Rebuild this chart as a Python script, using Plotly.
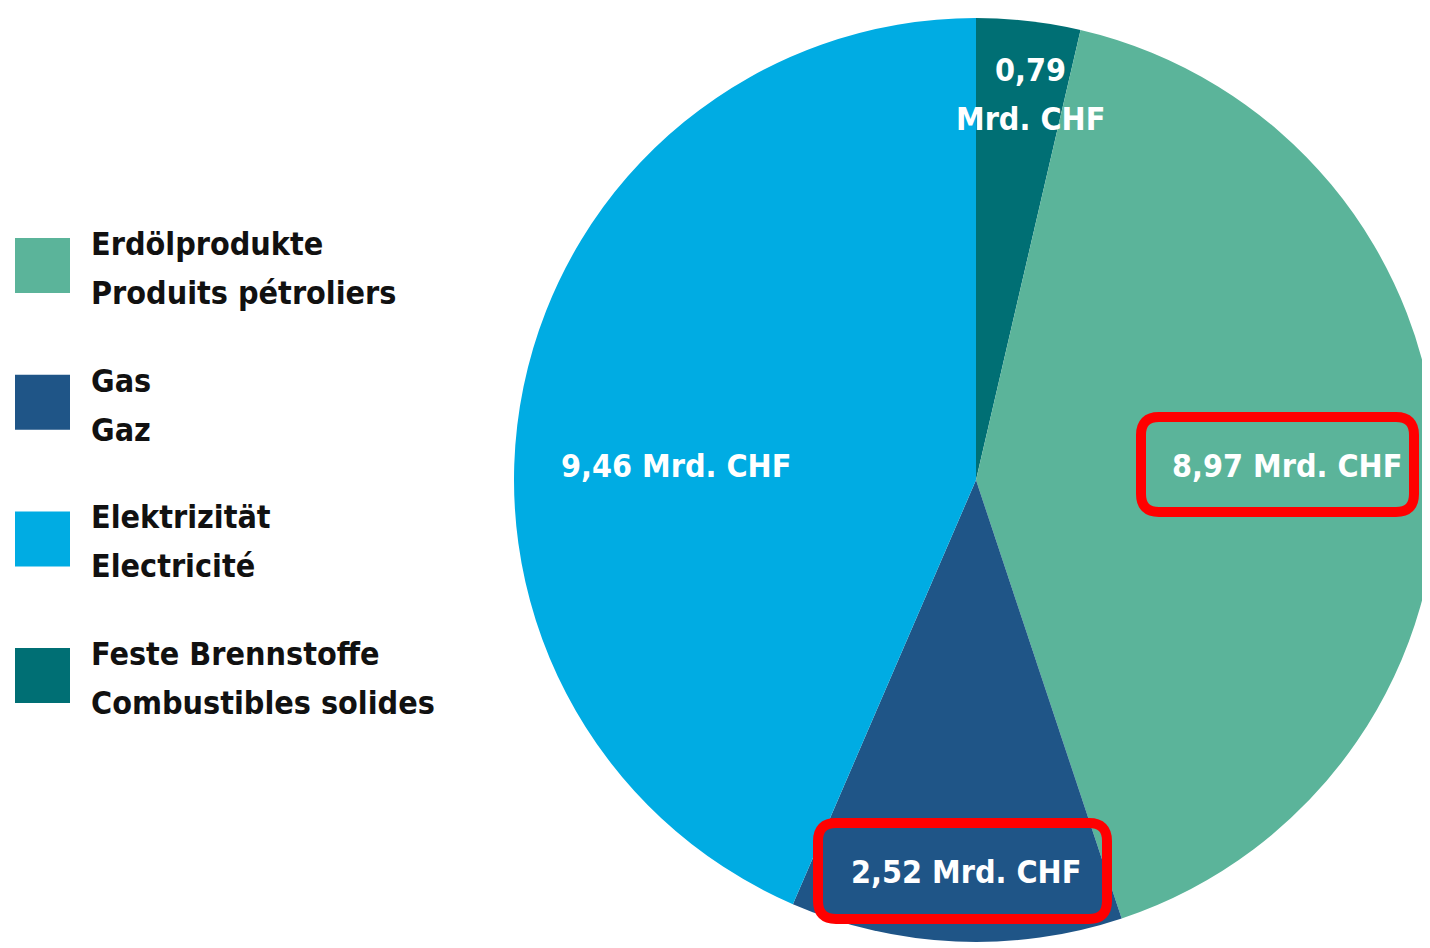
import plotly.graph_objects as go

# slice data, clockwise from 12 o'clock
labels_de = ["Feste Brennstoffe", "Erdölprodukte", "Gas", "Elektrizität"]
labels_fr = ["Combustibles solides", "Produits pétroliers", "Gaz", "Electricité"]
values = [0.79, 8.97, 2.52, 9.46]
colors = ["#006F74", "#5BB49A", "#1F5587", "#00ACE3"]
value_text = ["0,79<br>Mrd. CHF", "8,97 Mrd. CHF", "2,52 Mrd. CHF", "9,46 Mrd. CHF"]

# legend order as in the original
legend_order = [1, 2, 3, 0]

W, H = 1430, 948
OFF = 8  # page body margin
FONT = "Liberation Sans Narrow, DejaVu Sans Condensed, sans-serif"


def px(x):
    # screen pixel -> paper fraction
    return (x - OFF) / W


def py(y):
    return 1 - (y - OFF) / H


# pie: centre about (976, 479) on screen
fig = go.Figure(go.Pie(
    labels=labels_de,
    values=values,
    marker=dict(colors=colors, line=dict(width=0)),
    sort=False,
    direction="clockwise",
    rotation=0,
    textinfo="none",
    hoverinfo="label+value",
    showlegend=False,
    domain=dict(x=[506 / W, 1.0], y=[1 - 938 / H, 1 - 6 / H]),
))

annotations = []
shapes = []

# custom legend: big square swatch + two text lines
for k, i in enumerate(legend_order):
    top = 238 + k * 136.7
    shapes.append(dict(type="rect", xref="paper", yref="paper",
                       x0=px(15), x1=px(70), y0=py(top + 55), y1=py(top),
                       fillcolor=colors[i], line=dict(width=0)))
    for j, txt in enumerate([labels_de[i], labels_fr[i]]):
        annotations.append(dict(text=f"<b>{txt}</b>", xref="paper", yref="paper",
                                x=px(89), y=py(top + 6 + j * 49), xanchor="left", yanchor="middle",
                                showarrow=False, font=dict(family=FONT, size=32, color="#111111")))

# value labels inside slices
label_pos = [(1030, 70), (1287, 466), (966, 872), (676, 466)]
for i, (x, y) in enumerate(label_pos):
    lines = value_text[i].split("<br>")
    for j, line in enumerate(lines):
        annotations.append(dict(text=f"<b>{line}</b>", xref="paper", yref="paper",
                                x=px(x), y=py(y + j * 49), xanchor="center", yanchor="middle",
                                showarrow=False, font=dict(family=FONT, size=32, color="white")))


def rounded_rect(x0, y0, x1, y1, r):
    rx, ry = r / W, r / H
    X0, X1, Y0, Y1 = px(x0), px(x1), py(y1), py(y0)
    return (f"M {X0 + rx},{Y1} L {X1 - rx},{Y1} Q {X1},{Y1} {X1},{Y1 - ry} "
            f"L {X1},{Y0 + ry} Q {X1},{Y0} {X1 - rx},{Y0} "
            f"L {X0 + rx},{Y0} Q {X0},{Y0} {X0},{Y0 + ry} "
            f"L {X0},{Y1 - ry} Q {X0},{Y1} {X0 + rx},{Y1} Z")


# red highlight boxes
for box in [(1141, 417, 1414, 512), (818, 823, 1107, 919)]:
    shapes.append(dict(type="path", xref="paper", yref="paper",
                       path=rounded_rect(*box, 18), line=dict(color="#FF0000", width=10)))

fig.update_layout(
    width=W, height=H,
    margin=dict(l=0, r=0, t=0, b=0),
    paper_bgcolor="white",
    plot_bgcolor="white",
    annotations=annotations,
    shapes=shapes,
)

fig.write_html("out.html")
